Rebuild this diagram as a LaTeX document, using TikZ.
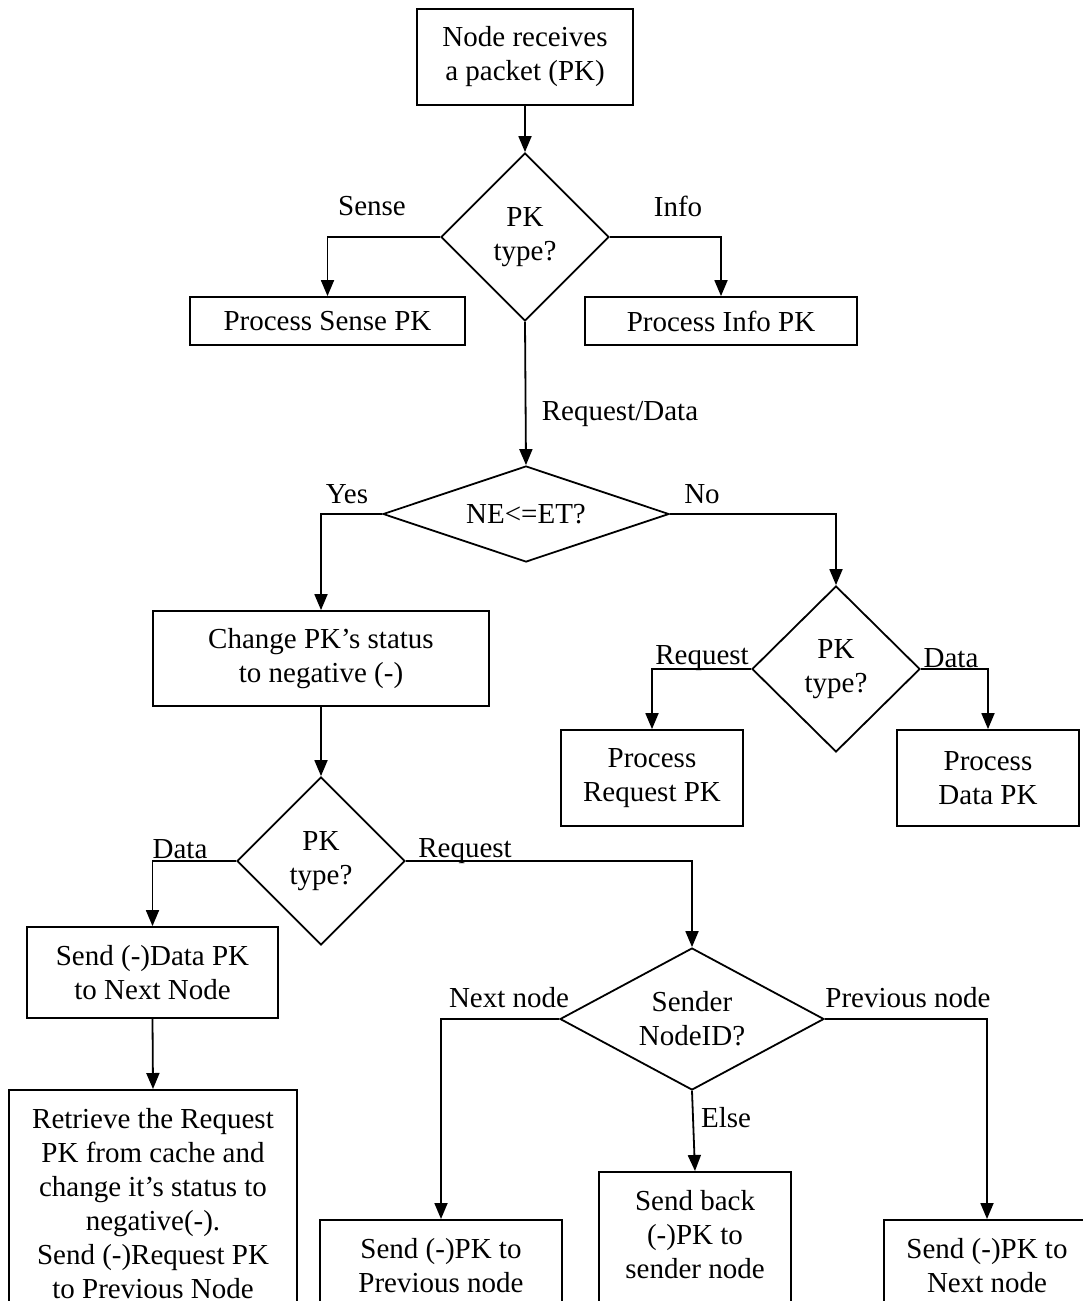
\documentclass[tikz,border=0pt]{standalone}
\usepackage{fontspec}
\setmainfont{Liberation Serif}
\usetikzlibrary{shapes.geometric,arrows.meta}
\tikzset{
  box/.style={draw,line width=1.8pt,align=center,inner sep=0pt},
  cutbox/.style={box,anchor=north,inner ysep=18pt,text depth=250pt},
  decision/.style={draw,diamond,line width=1.8pt,align=center,inner sep=0pt},
  lbl/.style={inner sep=0pt},
  arr/.style={line width=1.8pt,-{Triangle[length=16pt,width=13pt]}}
}
\begin{document}
\begin{tikzpicture}[x=1pt,y=-1pt,font=\fontsize{29}{34}\selectfont]
  \clip (0,0) rectangle (1083,1301);
  \node[box,minimum width=216pt,minimum height=96pt] (start) at (525,57) {Node receives\\a packet (PK)};
  \node[decision,minimum width=168pt,minimum height=168pt] (d1) at (525,237) {PK\\type?};
  \node[box,minimum width=275pt,minimum height=48pt] (sense) at (327.5,321) {Process Sense PK};
  \node[box,minimum width=272pt,minimum height=48pt] (info) at (721,321) {Process Info PK};
  \node[decision,aspect=3,minimum width=286pt,minimum height=96pt] (d2) at (526,514) {NE<=ET?};
  \node[box,minimum width=336pt,minimum height=95pt] (chg) at (321,658.5) {Change PK’s status\\to negative (-)};
  \node[decision,minimum width=168pt,minimum height=166pt] (d3) at (836,669) {PK\\type?};
  \node[box,minimum width=182pt,minimum height=96pt] (preq) at (652,778) {Process\\Request PK};
  \node[box,minimum width=182pt,minimum height=96pt] (pdata) at (988,778) {Process\\Data PK};
  \node[decision,minimum width=168pt,minimum height=168pt] (d4) at (321,861) {PK\\type?};
  \node[box,minimum width=251pt,minimum height=91pt] (sdata) at (152.5,972.5) {Send (-)Data PK\\to Next Node};
  \node[cutbox,minimum width=288pt] (retr) at (153,1089) {Retrieve the Request\\PK from cache and\\change it’s status to\\negative(-).\\Send (-)Request PK\\to Previous Node};
  \node[decision,aspect=1.85,minimum width=264pt,minimum height=142pt] (d5) at (692,1019) {Sender\\NodeID?};
  \node[cutbox,minimum width=242pt] (sprev) at (441,1219) {Send (-)PK to\\Previous node};
  \node[cutbox,minimum width=192pt] (sback) at (695,1171) {Send back\\(-)PK to\\sender node};
  \node[cutbox,minimum width=206pt] (snext) at (987,1219) {Send (-)PK to\\Next node};

  \node[lbl] (lsense) at (372,206) {Sense};
  \node[lbl] (linfo) at (678,206) {Info};
  \node[lbl] (lreqdata) at (620,414) {Request/Data};
  \node[lbl] (lyes) at (347,494) {Yes};
  \node[lbl] (lno) at (702,494) {No};
  \node[lbl] (lreq1) at (702,658) {Request};
  \node[lbl] (ldata1) at (951,658) {Data};
  \node[lbl] (ldata2) at (180,849) {Data};
  \node[lbl] (lreq2) at (465,851) {Request};
  \node[lbl] (lnext) at (509,998) {Next node};
  \node[lbl] (lprev) at (908,998) {Previous node};
  \node[lbl] (lelse) at (726,1118) {Else};

  \draw[arr] (start.south) -- (d1.north);
  \draw[arr] (d1.west) -| (sense.north);
  \draw[arr] (d1.east) -| (info.north);
  \draw[arr] (d1.south) -- (d2.north);
  \draw[arr] (d2.west) -| (chg.north);
  \draw[arr] (d2.east) -| (d3.north);
  \draw[arr] (d3.west) -| (preq.north);
  \draw[arr] (d3.east) -| (pdata.north);
  \draw[arr] (chg.south) -- (d4.north);
  \draw[arr] (d4.west) -| (sdata.north);
  \draw[arr] (sdata.south) -- (retr.north);
  \draw[arr] (d4.east) -| (d5.north);
  \draw[arr] (d5.west) -| (sprev.north);
  \draw[arr] (d5.south) -- (sback.north);
  \draw[arr] (d5.east) -| (snext.north);
\end{tikzpicture}
\end{document}
